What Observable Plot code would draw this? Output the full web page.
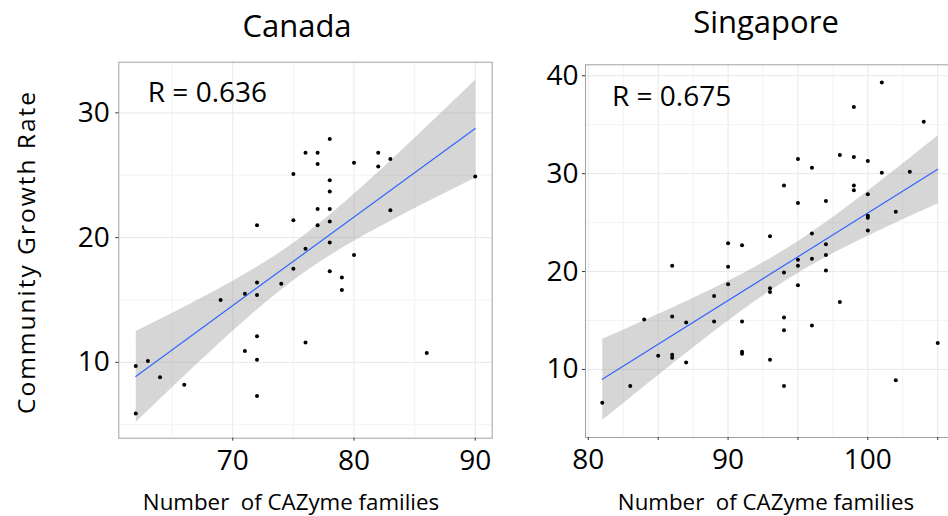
<!DOCTYPE html>
<html><head><meta charset="utf-8">
<script src="https://cdn.jsdelivr.net/npm/d3@7"></script>
<script src="https://cdn.jsdelivr.net/npm/@observablehq/plot@0.6"></script>
<style>
html,body{margin:0;padding:0;width:948px;height:516px;overflow:hidden;background:#fff;}
#wrap{position:relative;width:948px;height:516px;overflow:hidden;}
.panel{position:absolute;top:0;}
#overlay{position:absolute;left:0;top:0;}
</style></head><body><div id="wrap"></div>
<script>
// ---- data ----
const titles = ["Canada", "Singapore"];
const rLabels = ["R = 0.636", "R = 0.675"];
const yLabel = "Community Growth Rate";
const xLabel = "Number  of CAZyme families";

const canadaX = [62,62,63,64,66,69,71,71,72,72,72,72,72,72,74,75,75,75,76,76,76,77,77,77,77,78,78,78,78,78,78,78,79,79,80,80,82,82,83,83,86,90];
const canadaY = [9.7,5.9,10.1,8.8,8.2,15.0,15.5,10.9,21.0,16.4,15.4,12.1,10.2,7.3,16.3,25.1,21.4,17.5,26.8,19.1,11.6,26.8,25.9,22.3,21.0,27.9,24.6,23.7,22.3,21.3,19.6,17.3,16.8,15.8,26.0,18.6,26.8,25.7,26.3,22.2,10.75,24.9];

const singX = [81,83,84,85,86,86,86,86,87,87,89,89,90,90,90,91,91,91,91,93,93,93,93,94,94,94,94,94,95,95,95,95,95,96,96,96,96,97,97,97,97,98,98,99,99,99,99,100,100,100,100,100,101,101,102,102,103,104,105];
const singY = [6.6,8.3,15.1,11.4,20.6,15.4,11.5,11.2,14.8,10.7,17.5,14.9,22.9,20.5,18.7,22.7,14.9,11.8,11.6,23.6,18.3,17.9,11.0,28.8,19.9,15.3,14.0,8.3,31.5,27.0,21.2,20.6,18.6,30.6,23.9,21.3,14.5,27.2,22.8,21.7,20.1,31.9,16.9,36.8,31.7,28.8,28.3,31.3,27.9,25.7,25.5,24.2,39.3,30.1,26.1,8.9,30.2,35.3,12.7];

const canadaXTicks = [70, 80, 90];
const canadaXMinor = [65, 75, 85];
const canadaYTicks = [10, 20, 30];
const canadaYMinor = [5, 15, 25];
const singXTicks = [80, 85, 90, 95, 100, 105];
const singXLabelled = [80, 90, 100];
const singXMinor = [82.5, 87.5, 92.5, 97.5, 102.5];
const singYTicks = [10, 20, 30, 40];
const singYMinor = [15, 25, 35];

const FONT = "'Open Sans', 'DejaVu Sans', sans-serif";

function panel(o) {
  const data = o.xs.map((x, i) => ({x, y: o.ys[i]}));
  return Plot.plot({
    width: o.width, height: 516,
    marginLeft: o.ml, marginRight: o.mr, marginTop: o.mt, marginBottom: o.mb,
    x: {domain: o.xDomain, label: null},
    y: {domain: o.yDomain, label: null},
    style: {fontFamily: FONT, fontSize: "28px", color: "#000", background: "transparent", overflow: "visible"},
    marks: [
      Plot.gridX(o.xMinor, {stroke: "#f3f3f3", strokeOpacity: 1}),
      Plot.gridY(o.yMinor, {stroke: "#f3f3f3", strokeOpacity: 1}),
      Plot.gridX(o.xTicks, {stroke: "#e8e8e8", strokeOpacity: 1}),
      Plot.gridY(o.yTicks, {stroke: "#e8e8e8", strokeOpacity: 1}),
      Plot.linearRegressionY(data, {x: "x", y: "y", stroke: "#3366FF", strokeWidth: 1.2, fill: "#999999", fillOpacity: 0.4}),
      Plot.dot(data, {x: "x", y: "y", r: 2, fill: "#000", stroke: null}),
      Plot.frame({stroke: "#a0a0a0", strokeWidth: 1}),
      Plot.axisX(o.xTicks, {tickSize: 3, tickPadding: 9, stroke: "#333", fill: "#000", fontSize: 28, label: null,
        tickFormat: d => o.xLabelled.includes(d) ? String(d) : ""}),
      Plot.axisY(o.yTicks, {tickSize: 3, tickPadding: o.ypad, stroke: "#333", fill: "#000", fontSize: 28, label: null}),
      Plot.text([o.rLabel], {text: d => d, frameAnchor: "top-left", textAnchor: "start", lineAnchor: "top",
        dx: o.rdx, dy: o.rdy, fontSize: 28, fill: "#000"})
    ]
  });
}

const wrap = document.getElementById("wrap");

const left = panel({xs: canadaX, ys: canadaY, width: 500, ml: 118.3, mr: 8.3, mt: 61.7, mb: 78.3,
  xDomain: [60.6, 91.4], yDomain: [3.92, 34.06],
  xTicks: canadaXTicks, xLabelled: canadaXTicks, xMinor: canadaXMinor,
  yTicks: canadaYTicks, yMinor: canadaYMinor, ypad: 6,
  rLabel: rLabels[0], rdx: 29, rdy: 19.5});
left.classList.add("panel"); left.style.left = "0px";
wrap.appendChild(left);

const right = panel({xs: singX, ys: singY, width: 460, ml: 85, mr: 6, mt: 64.3, mb: 79,
  xDomain: [79.8, 106.2], yDomain: [3.05, 41.12],
  xTicks: singXTicks, xLabelled: singXLabelled, xMinor: singXMinor,
  yTicks: singYTicks, yMinor: singYMinor, ypad: 4,
  rLabel: rLabels[1], rdx: 26.5, rdy: 21.2});
right.classList.add("panel"); right.style.left = "500px";
wrap.appendChild(right);

// titles and axis labels
const svg = d3.select(wrap).append("svg").attr("id", "overlay").attr("width", 948).attr("height", 516)
  .style("font-family", FONT).style("pointer-events", "none");
svg.append("text").attr("x", 297).attr("y", 36.5).attr("text-anchor", "middle").attr("font-size", 31).text(titles[0]);
svg.append("text").attr("x", 766).attr("y", 33).attr("text-anchor", "middle").attr("font-size", 31).text(titles[1]);
svg.append("text").attr("transform", "translate(35,252) rotate(-90)").attr("text-anchor", "middle")
  .attr("font-size", 24.5).attr("letter-spacing", 2).text(yLabel);
svg.append("text").attr("x", 291).attr("y", 510).attr("text-anchor", "middle").attr("font-size", 22.3)
  .style("white-space", "pre").attr("xml:space", "preserve").text(xLabel);
svg.append("text").attr("x", 766).attr("y", 510).attr("text-anchor", "middle").attr("font-size", 22.3)
  .style("white-space", "pre").attr("xml:space", "preserve").text(xLabel);
</script>
</body></html>
